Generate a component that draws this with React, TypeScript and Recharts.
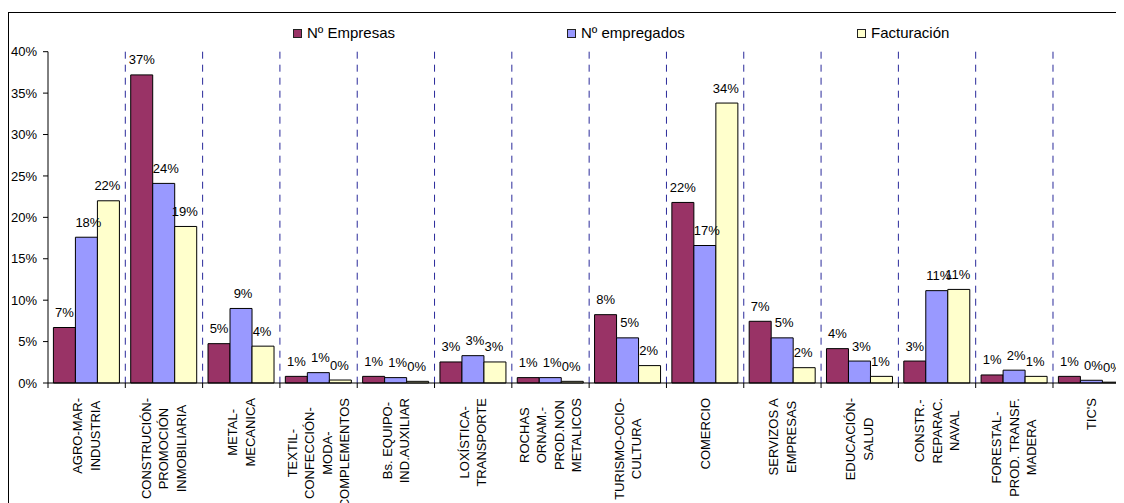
import React from 'react';
import { BarChart, Bar, XAxis, YAxis, CartesianGrid, Legend, LabelList } from 'recharts';

const categories: string[] = [
  'AGRO-MAR-\nINDUSTRIA',
  'CONSTRUCIÓN-\nPROMOCIÓN\nINMOBILIARIA',
  'METAL-\nMECANICA',
  'TEXTIL-\nCONFECCIÓN-\nMODA-\nCOMPLEMENTOS',
  'Bs. EQUIPO-\nIND.AUXILIAR',
  'LOXÍSTICA-\nTRANSPORTE',
  'ROCHAS\nORNAM.-\nPROD.NON\nMETALICOS',
  'TURISMO-OCIO-\nCULTURA',
  'COMERCIO',
  'SERVIZOS A\nEMPRESAS',
  'EDUCACIÓN-\nSALUD',
  'CONSTR.-\nREPARAC.\nNAVAL',
  'FORESTAL-\nPROD. TRANSF.\nMADERA',
  "TIC'S",
];

const empresas: number[] = [0.067, 0.372, 0.0475, 0.008, 0.008, 0.0254, 0.0065, 0.0825, 0.218, 0.0745, 0.0415, 0.0265, 0.0097, 0.008];
const empregados: number[] = [0.176, 0.241, 0.09, 0.0125, 0.0065, 0.033, 0.0065, 0.0545, 0.166, 0.0545, 0.0265, 0.1115, 0.0155, 0.0033];
const facturacion: number[] = [0.22, 0.189, 0.0445, 0.0036, 0.002, 0.0254, 0.002, 0.021, 0.338, 0.0185, 0.008, 0.113, 0.008, 0.001];

const seriesNames: string[] = ['Nº Empresas', 'Nº empregados', 'Facturación'];
const yTicks: number[] = [0, 0.05, 0.1, 0.15, 0.2, 0.25, 0.3, 0.35, 0.4];

const data = categories.map((name, i) => ({
  name,
  empresas: empresas[i],
  empregados: empregados[i],
  facturacion: facturacion[i],
}));

const COLORS = ['#993366', '#9999FF', '#FFFFCC'];
const FONT = "'Liberation Sans', Arial, sans-serif";
const pct = (v: number) => `${Math.round(v * 100)}%`;

let measureCtx: CanvasRenderingContext2D | null = null;
const measure = (t: string) => {
  if (!measureCtx) {
    const c = document.createElement('canvas');
    measureCtx = c.getContext('2d');
  }
  if (!measureCtx) return t.length * 8;
  measureCtx.font = `13px ${FONT}`;
  return measureCtx.measureText(t).width;
};

const CategoryTick = (props: any) => {
  const { x, y, payload } = props;
  const half = Number(payload?.offset) || 0;
  const lines: string[] = String(payload.value).split('\n');
  const maxLen = Math.max(...lines.map(measure));
  const cy = y + 15 + maxLen / 2;
  const spacing = 17.6;
  const n = lines.length;
  return (
    <g>
      {half > 0 && <line x1={x - half} y1={y} x2={x - half} y2={y + 5} stroke="#000" />}
      {lines.map((ln, i) => {
        const lx = x + (i - (n - 1) / 2) * spacing;
        return (
          <text
            key={i}
            transform={`translate(${lx},${cy}) rotate(-90)`}
            textAnchor="middle"
            dominantBaseline="central"
            fontSize={13}
            fontFamily={FONT}
            fill="#000"
          >
            {ln}
          </text>
        );
      })}
    </g>
  );
};

const makeLabel = (dx: number) => (props: any) => {
  const { x, y, width, value } = props;
  return (
    <text
      x={Number(x) + Number(width) / 2 + dx}
      y={Number(y) - 15}
      textAnchor="middle"
      dominantBaseline="central"
      fontSize={13}
      fontFamily={FONT}
      fill="#000"
    >
      {pct(Number(value))}
    </text>
  );
};

const gridGenerator = (args: any) => {
  const xAxis = args?.xAxis;
  const offset = args?.offset;
  const scale = xAxis?.scale;
  if (scale && typeof scale === 'function') {
    const pts = categories.slice(1).map((c) => scale(c)).filter((v: any) => typeof v === 'number' && !isNaN(v));
    if (pts.length === categories.length - 1) return pts;
  }
  if (offset) {
    return categories.slice(1).map((_, i) => offset.left + ((i + 1) * offset.width) / categories.length);
  }
  return [];
};

const legendLefts = [285, 559, 849];

const LegendContent = () => (
  <div style={{ position: 'relative', width: 1140, height: 45, fontFamily: FONT }}>
    {seriesNames.map((s, i) => (
      <React.Fragment key={s}>
        <div
          style={{
            position: 'absolute',
            left: legendLefts[i],
            top: 21,
            width: 9,
            height: 9,
            boxSizing: 'border-box',
            border: '1px solid #222',
            background: COLORS[i],
          }}
        />
        <div
          style={{
            position: 'absolute',
            left: legendLefts[i] + 14,
            top: 17,
            lineHeight: '16px',
            fontSize: 15,
            color: '#000',
            whiteSpace: 'nowrap',
          }}
        >
          {s}
        </div>
      </React.Fragment>
    ))}
  </div>
);

export default function App() {
  return (
    <div style={{ position: 'relative', width: 1116, height: 495, overflow: 'hidden', fontFamily: FONT }}>
      <div
        style={{
          position: 'absolute',
          left: 0,
          top: 4,
          width: 1200,
          height: 600,
          borderTop: '1px solid #000',
          borderLeft: '1px solid #000',
        }}
      />
      <div style={{ position: 'absolute', left: 0, top: 0 }}>
        <BarChart
          width={1140}
          height={495}
          data={data}
          margin={{ top: 43.7, right: 17.7, left: 0, bottom: 20 }}
          barCategoryGap="7%"
          barGap={0}
        >
          <CartesianGrid
            horizontal={false}
            vertical
            stroke="#2a2a9a"
            strokeDasharray="7 6"
            verticalCoordinatesGenerator={gridGenerator}
          />
          <XAxis
            dataKey="name"
            type="category"
            tick={<CategoryTick />}
            tickLine={false}
            tickSize={0}
            tickMargin={0}
            axisLine={{ stroke: '#000' }}
            interval={0}
            height={100}
          />
          <YAxis
            domain={[0, 0.4]}
            ticks={yTicks}
            tickFormatter={pct}
            width={40}
            tickSize={5}
            tickMargin={6}
            tick={{ fontSize: 13, fill: '#000', fontFamily: FONT }}
            axisLine={{ stroke: '#000' }}
            tickLine={{ stroke: '#000' }}
            interval={0}
          />
          <Legend
            verticalAlign="middle"
            align="center"
            layout="horizontal"
            wrapperStyle={{ top: 0, left: 0, width: 1140, height: 45 }}
            content={<LegendContent />}
          />
          <Bar dataKey="empresas" name={seriesNames[0]} fill={COLORS[0]} stroke="#000" strokeWidth={1} isAnimationActive={false}>
            <LabelList dataKey="empresas" content={makeLabel(0)} />
          </Bar>
          <Bar dataKey="empregados" name={seriesNames[1]} fill={COLORS[1]} stroke="#000" strokeWidth={1} isAnimationActive={false}>
            <LabelList dataKey="empregados" content={makeLabel(2)} />
          </Bar>
          <Bar dataKey="facturacion" name={seriesNames[2]} fill={COLORS[2]} stroke="#000" strokeWidth={1} isAnimationActive={false}>
            <LabelList dataKey="facturacion" content={makeLabel(-1)} />
          </Bar>
        </BarChart>
      </div>
    </div>
  );
}
